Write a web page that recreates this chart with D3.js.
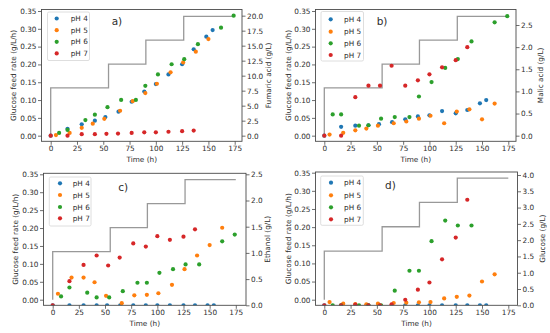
<!DOCTYPE html>
<html><head><meta charset="utf-8">
<script src="https://cdn.jsdelivr.net/npm/d3@7/dist/d3.min.js"></script>
<style>
html,body{margin:0;padding:0;background:#fff;}
svg{display:block;font-family:"DejaVu Sans",sans-serif;}
</style></head>
<body>
<svg id="chart" width="550" height="333"></svg>
<script>
// ---- data ----
const phLabels = ["pH 4", "pH 5", "pH 6", "pH 7"];
const timesPH4 = [0, 16, 29.5, 42, 52, 64.5, 77, 89, 100, 112, 125, 136, 148, 154];
const timesPH5 = [5, 18, 29.5, 40, 51, 66, 78, 90, 101, 114, 126, 138, 150, 162];
const timesPH6 = [8, 16, 33, 42, 54, 67, 81, 90, 102, 115, 127, 140, 162, 174];
const timesPH7 = [0, 16, 29.5, 42, 53, 64, 77, 89, 100, 112, 125, 136];

const stepTimes = [0, 55, 90.5, 126.5, 175];
const stepRates = [0.134, 0.201, 0.268, 0.335];

const fumaricPH4 = [0, 1.15, 1.9, 2.5, 3.1, 4.0, 5.65, 7.35, 8.6, 10.2, 11.9, 14.4, 16.5, 17.6];
const fumaricPH5 = [0.1, 0.45, 1.3, 2.0, 2.8, 4.15, 5.75, 7.1, 8.65, 10.55, 12.2, 14.0, 16.1, null];
const fumaricPH6 = [0.45, 0.95, 2.6, 3.5, 4.75, 5.95, 5.95, 8.3, 10.2, 11.9, 12.75, 15.25, 18.0, 20.0];
const fumaricPH7 = [0, 0, 0.25, 0.25, 0.3, 0.35, 0.45, 0.55, 0.55, 0.65, 0.75, 0.85];

const malicPH4 = [0, 0.2, 0.225, 0.235, 0.26, 0.305, 0.37, 0.435, 0.46, 0.555, 0.505, 0.58, 0.73, 0.805];
const malicPH5 = [0.025, 0.065, 0.12, 0.16, 0.225, 0.28, 0.32, 0.385, 0.45, 0.28, 0.545, 0.595, 0.37, 0.725];
const malicPH6 = [0.48, 0.48, 0.225, 0.235, 0.385, 0.42, 0.42, 0.885, 1.21, 1.53, 1.73, 2.13, 2.56, 2.7];
const malicPH7 = [0, 0, 0.87, 1.13, 1.13, 1.58, 1.13, 1.25, 1.385, 1.545, 1.705, 2.0];

const ethanolPH4 = [0, 0, 0, 0, 0, 0, 0, 0, 0, 0, 0, 0, 0, 0];
const ethanolPH5 = [0.22, 0.53, 0.53, 0.44, 0.18, 0.04, 0.19, 0.2, 0.23, 0.39, 0.69, 0.95, 1.15, 1.48];
const ethanolPH6 = [0.17, 0.34, 0.24, 0.15, 0.15, 0.27, 0.43, 0.43, 0.62, 0.69, 0.78, 0.78, 1.22, 1.35];
const ethanolPH7 = [0, 0.46, 0.77, 0.95, 0.76, 0.91, 1.18, 1.12, 1.32, 1.25, 1.31, 1.45];

const glucosePH4 = [0, 0, 0, 0, 0, 0, 0, 0, 0, 0, 0, 0, 0, 0];
const glucosePH5 = [0.1, 0.05, 0.04, 0.03, 0.05, 0.07, 0.08, 0.09, 0.1, 0.21, 0.26, 0.3, 0.73, 0.95];
const glucosePH6 = [0, 0, 0, 0, 0, 0.45, 1.06, 1.06, 1.97, 2.6, 2.45, 2.45, null, null];
const glucosePH7 = [0, 0, 0.02, 0, 0, 0.03, 0.17, 0.48, 0.7, 1.41, 2.08, 3.24];

const xTicks = [0, 25, 50, 75, 100, 125, 150, 175];
const leftTicks = [0, 0.05, 0.1, 0.15, 0.2, 0.25, 0.3, 0.35];
const fumaricTicks = [0, 2.5, 5, 7.5, 10, 12.5, 15, 17.5, 20];
const malicTicks = [0, 0.5, 1, 1.5, 2, 2.5];
const ethanolTicks = [0, 0.5, 1, 1.5, 2, 2.5];
const glucoseTicks = [0, 0.5, 1, 1.5, 2, 2.5, 3, 3.5, 4];

// ---- styling / layout ----
const colors = ["#1f77b4", "#ff7f0e", "#2ca02c", "#d62728"];
const times = [timesPH4, timesPH5, timesPH6, timesPH7];
const FS = 7.3;
const R = 2.1;
const TXT = "#2e2e2e";

const panels = [
  { label: "a)", rLabel: "Fumaric acid (g/L)", series: [fumaricPH4, fumaricPH5, fumaricPH6, fumaricPH7], rTicks: fumaricTicks, rMax: 20,
    fx0: 41.5, fx1: 242, fy0: 9.5, fy1: 141.3, x0: 50.7, x175: 234.7, yl0: 135.67, yl35: 11, yr0: 135.67, yrMax: 15.67,
    leg: { x0: 47.5, x1: 89.5, y0: 12, y1: 60.5, rows: [18.5, 30.2, 41.8, 53.4], dot: 56.7, txt: 70.7 },
    lab: [111.7, 24.5], ylx: 16, yrx: 271 },
  { label: "b)", rLabel: "Malic acid (g/L)", series: [malicPH4, malicPH5, malicPH6, malicPH7], rTicks: malicTicks, rMax: 2.5,
    fx0: 315.5, fx1: 516, fy0: 9.5, fy1: 141.3, x0: 324.3, x175: 508.3, yl0: 135.67, yl35: 11, yr0: 135.67, yrMax: 25,
    leg: { x0: 321, x1: 363.5, y0: 11.5, y1: 61, rows: [19.3, 31.7, 43.3, 55], dot: 330.7, txt: 344 },
    lab: [376.7, 24.8], ylx: 291, yrx: 543 },
  { label: "c)", rLabel: "Ethanol (g/L)", series: [ethanolPH4, ethanolPH5, ethanolPH6, ethanolPH7], rTicks: ethanolTicks, rMax: 2.5,
    fx0: 43.5, fx1: 246, fy0: 173.3, fy1: 305.3, x0: 52.7, x175: 235.8, yl0: 299.7, yl35: 174.3, yr0: 305.3, yrMax: 174.3,
    leg: { x0: 49.3, x1: 91, y0: 177, y1: 226, rows: [183.3, 195, 207, 218.3], dot: 60, txt: 72.7 },
    lab: [118.3, 190.5], ylx: 17.5, yrx: 269.5 },
  { label: "d)", rLabel: "Glucose (g/L)", series: [glucosePH4, glucosePH5, glucosePH6, glucosePH7], rTicks: glucoseTicks, rMax: 4,
    fx0: 315.5, fx1: 517.5, fy0: 172, fy1: 305.3, x0: 324.3, x175: 508.3, yl0: 299.7, yl35: 172.7, yr0: 305.3, yrMax: 175,
    leg: { x0: 320.7, x1: 363.3, y0: 176, y1: 225.3, rows: [182.7, 195.3, 207.3, 219.3], dot: 331, txt: 344 },
    lab: [385, 189], ylx: 291, yrx: 544.5 }
];

const svg = d3.select("#chart");
const defs = svg.append("defs");

panels.forEach((p, i) => {
  const g = svg.append("g");
  const x = d3.scaleLinear().domain([0, 175]).range([p.x0, p.x175]);
  const yL = d3.scaleLinear().domain([0, 0.35]).range([p.yl0, p.yl35]);
  const yR = d3.scaleLinear().domain([0, p.rMax]).range([p.yr0, p.yrMax]);

  const clipId = "clip" + i;
  defs.append("clipPath").attr("id", clipId).append("rect")
    .attr("x", p.fx0).attr("y", p.fy0).attr("width", p.fx1 - p.fx0).attr("height", p.fy1 - p.fy0);

  // step feed-rate line (left axis)
  const stepPts = [{ t: stepTimes[0], r: 0 }];
  stepRates.forEach((r, k) => stepPts.push({ t: stepTimes[k], r: r }));
  stepPts.push({ t: stepTimes[stepTimes.length - 1], r: stepRates[stepRates.length - 1] });
  const line = d3.line().x(d => x(d.t)).y(d => yL(d.r)).curve(d3.curveStepAfter);
  g.append("path").datum(stepPts).attr("d", line)
    .attr("fill", "none").attr("stroke", "#999999").attr("stroke-width", 1.3);

  // scatter (right axis)
  const sc = g.append("g").attr("clip-path", `url(#${clipId})`);
  p.series.forEach((vals, s) => {
    const pts = vals.map((v, k) => ({ t: times[s][k], v: v })).filter(d => d.v !== null && d.v !== undefined);
    sc.selectAll(null).data(pts).enter().append("circle")
      .attr("cx", d => x(d.t)).attr("cy", d => yR(d.v)).attr("r", R)
      .attr("fill", colors[s]);
  });

  // frame
  g.append("rect").attr("x", p.fx0).attr("y", p.fy0).attr("width", p.fx1 - p.fx0).attr("height", p.fy1 - p.fy0)
    .attr("fill", "none").attr("stroke", "#4a4a4a").attr("stroke-width", 0.9);

  const styleAxis = sel => {
    sel.select(".domain").remove();
    sel.selectAll(".tick line").attr("stroke", "#4a4a4a").attr("stroke-width", 0.8);
    sel.selectAll(".tick text").attr("fill", TXT).style("font-size", FS + "px").style("font-family", "DejaVu Sans");
  };
  g.append("g").attr("transform", `translate(0,${p.fy1})`)
    .call(d3.axisBottom(x).tickValues(xTicks).tickFormat(d3.format("d")).tickSize(3.5).tickPadding(1.5))
    .call(styleAxis);
  g.append("g").attr("transform", `translate(${p.fx0},0)`)
    .call(d3.axisLeft(yL).tickValues(leftTicks).tickFormat(d3.format(".2f")).tickSize(3.5).tickPadding(1.5))
    .call(styleAxis);
  g.append("g").attr("transform", `translate(${p.fx1},0)`)
    .call(d3.axisRight(yR).tickValues(p.rTicks).tickFormat(d3.format(".1f")).tickSize(3.5).tickPadding(1.5))
    .call(styleAxis);

  const cy = (p.fy0 + p.fy1) / 2;
  const cx = (p.fx0 + p.fx1) / 2;
  g.append("text").attr("x", cx).attr("y", p.fy1 + 20.5).attr("text-anchor", "middle")
    .attr("fill", TXT).style("font-size", FS + "px").text("Time (h)");
  g.append("text").attr("transform", `translate(${p.ylx},${cy}) rotate(-90)`).attr("text-anchor", "middle")
    .attr("fill", TXT).style("font-size", FS + "px").text("Glucose feed rate (g/L/h)");
  g.append("text").attr("transform", `translate(${p.yrx},${cy}) rotate(-90)`).attr("text-anchor", "middle")
    .attr("fill", TXT).style("font-size", FS + "px").text(p.rLabel);

  // legend
  const L = p.leg;
  g.append("rect").attr("x", L.x0).attr("y", L.y0).attr("width", L.x1 - L.x0).attr("height", L.y1 - L.y0)
    .attr("rx", 1.5).attr("fill", "#fff").attr("fill-opacity", 0.85).attr("stroke", "#d6d6d6").attr("stroke-width", 0.8);
  phLabels.forEach((lab, s) => {
    g.append("circle").attr("cx", L.dot).attr("cy", L.rows[s]).attr("r", R).attr("fill", colors[s]);
    g.append("text").attr("x", L.txt).attr("y", L.rows[s]).attr("dy", "0.35em")
      .attr("fill", TXT).style("font-size", FS + "px").text(lab);
  });

  g.append("text").attr("x", p.lab[0]).attr("y", p.lab[1]).attr("fill", TXT)
    .style("font-size", "10.5px").text(p.label);
});
</script>
</body></html>
